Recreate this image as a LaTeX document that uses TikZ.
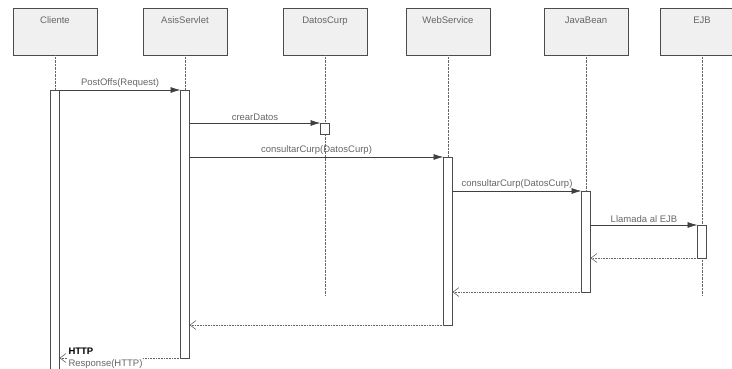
\documentclass[tikz,border=0pt]{standalone}
\usepackage{fontspec}
\setmainfont{Liberation Sans}
\usetikzlibrary{arrows.meta}
\begin{document}
\begin{tikzpicture}[x=1pt, y=-1pt,
  every node/.style={font=\fontsize{9.5}{12}\selectfont, text=black!60},
  head/.style={rectangle, draw=black!70, fill=black!6, minimum width=84pt, minimum height=47pt,
               anchor=north, inner sep=0pt},
  bar/.style={rectangle, draw=black!70, fill=white, minimum width=9pt, anchor=north,
              inner sep=0pt, outer sep=0pt},
  life/.style={densely dotted, black!60},
  call/.style={-{Latex[length=10pt,width=6pt]}, black!75, line width=0.6pt},
  ret/.style={-{Straight Barb[length=6pt,width=9pt]}, densely dotted, black!60, line width=0.6pt},
  msg/.style={above, midway, inner sep=2pt}
]
  \useasboundingbox (0,0) rectangle (732,368);

  % Objetos
  \node[head, label={[anchor=north, yshift=-5pt]north:Cliente}] (cli) at (55,8) {};
  \node[head, label={[anchor=north, yshift=-5pt]north:AsisServlet}] (asis) at (185,8) {};
  \node[head, label={[anchor=north, yshift=-5pt]north:DatosCurp}] (dat) at (325,8) {};
  \node[head, label={[anchor=north, yshift=-5pt]north:WebService}] (ws) at (448,8) {};
  \node[head, label={[anchor=north, yshift=-5pt]north:JavaBean}] (jb) at (586,8) {};
  \node[head, label={[anchor=north, yshift=-5pt]north:EJB}] (ejb) at (702,8) {};

  % Lineas de vida
  \coordinate (datEnd) at (325,296);
  \coordinate (ejbEnd) at (702,296);
  \draw[life] (dat.south) -- (datEnd);
  \draw[life] (ejb.south) -- (ejbEnd);

  % Activaciones
  \node[bar, minimum height=290pt] (cliBar) at (55,90) {};
  \node[bar, minimum height=268pt] (asisBar) at (185,90) {};
  \node[bar, minimum height=11pt] (datBar) at (325,123) {};
  \node[bar, minimum height=168pt] (wsBar) at (448,157) {};
  \node[bar, minimum height=101pt] (jbBar) at (586,191) {};
  \node[bar, minimum height=33pt] (ejbBar) at (702,225) {};

  \draw[life] (cli.south) -- (cliBar.north);
  \draw[life] (asis.south) -- (asisBar.north);
  \draw[life] (ws.south) -- (wsBar.north);
  \draw[life] (jb.south) -- (jbBar.north);

  % Mensajes
  \draw[call] (cliBar.north east) -- node[msg] {PostOffs(Request)} (asisBar.north west);
  \draw[call] (asisBar.east |- datBar.north) -- node[msg] {crearDatos} (datBar.north west);
  \draw[call] (asisBar.east |- wsBar.north) -- node[msg] {consultarCurp(DatosCurp)} (wsBar.north west);
  \draw[call] (wsBar.east |- jbBar.north) -- node[msg] {consultarCurp(DatosCurp)} (jbBar.north west);
  \draw[call] (jbBar.east |- ejbBar.north) -- node[msg] {Llamada al EJB} (ejbBar.north west);

  % Retornos
  \draw[ret] (ejbBar.south west) -- (jbBar.east |- ejbBar.south);
  \draw[ret] (jbBar.south west) -- (wsBar.east |- jbBar.south);
  \draw[ret] (wsBar.south west) -- (asisBar.east |- wsBar.south);
  \draw[ret] (asisBar.south west) -- node[pos=0.62, fill=white, inner sep=1pt, align=left]
    {\textbf{\color{black}HTTP}\\Response(HTTP)} (cliBar.east |- asisBar.south);
\end{tikzpicture}
\end{document}
